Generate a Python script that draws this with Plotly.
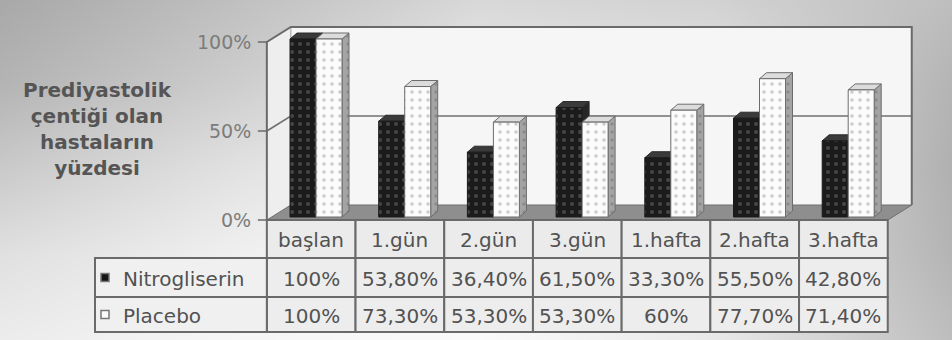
import plotly.graph_objects as go

# ---- data -------------------------------------------------------------
categories = ["başlan", "1.gün", "2.gün", "3.gün", "1.hafta", "2.hafta", "3.hafta"]
series_names = ["Nitrogliserin", "Placebo"]
nitro = [100, 53.8, 36.4, 61.5, 33.3, 55.5, 42.8]
placebo = [100, 73.3, 53.3, 53.3, 60, 77.7, 71.4]
y_ticks = [0, 50, 100]
y_title = "Prediyastolik<br>çentiği olan<br>hastaların<br>yüzdesi"

# ---- geometry ---------------------------------------------------------
W, H = 952, 340
PX_X0, PX_PER_CAT = 316.0, 88.7      # pixel x of category 0 / pixels per category
PX_Y0, PX_PER_PCT = 217.0, 1.78      # pixel y of 0% / pixels per percent
X_RANGE = [-PX_X0 / PX_PER_CAT, (W - PX_X0) / PX_PER_CAT]
Y_RANGE = [(PX_Y0 - H) / PX_PER_PCT, PX_Y0 / PX_PER_PCT]

DEPTH_DX = 24 / PX_PER_CAT           # shift of one full depth unit (x)
DEPTH_DY = 15 / PX_PER_PCT           # shift of one full depth unit (y)
FRONT, BACK = -0.2, 0.8              # depth of front edge and back wall
BAR_W = 26 / PX_PER_CAT
BAR_DX = 7 / PX_PER_CAT
BAR_DY = 6 / PX_PER_PCT
N = len(categories)
X_LO, X_HI = -0.5, N - 0.5

FONT = "DejaVu Sans"
TEXT = "#525252"
EDGE = "#6a6a6a"


def at_depth(x, v, d):
    return x + DEPTH_DX * d, v + DEPTH_DY * d


def px_x(x):
    return PX_X0 + PX_PER_CAT * x


def poly(points, fill, line_color=None, line_width=0, pattern=None):
    xs = [p[0] for p in points] + [points[0][0]]
    ys = [p[1] for p in points] + [points[0][1]]
    tr = go.Scatter(
        x=xs, y=ys, mode="lines", fill="toself", fillcolor=fill,
        line=dict(color=line_color or fill, width=line_width),
        hoverinfo="skip", showlegend=False,
    )
    if pattern:
        tr.update(fillpattern=pattern)
    return tr


def path(points, color, width):
    return go.Scatter(
        x=[p[0] for p in points], y=[p[1] for p in points], mode="lines",
        line=dict(color=color, width=width), hoverinfo="skip", showlegend=False,
    )


fig = go.Figure()

# ---- background gradient ----------------------------------------------
bg_px_x = [0, 240, 476, 714, 952]
bg_px_y = [0, 85, 170, 255, 340]
bg_gray = [
    [168, 192, 216, 210, 190],
    [180, 206, 234, 226, 180],
    [202, 226, 244, 234, 176],
    [224, 240, 248, 232, 180],
    [236, 246, 250, 232, 190],
]
fig.add_trace(go.Heatmap(
    x=[(p - PX_X0) / PX_PER_CAT for p in bg_px_x],
    y=[(PX_Y0 - p) / PX_PER_PCT for p in bg_px_y],
    z=bg_gray, zmin=0, zmax=255, zsmooth="best",
    colorscale=[[0, "rgb(0,0,0)"], [1, "rgb(255,255,255)"]],
    showscale=False, hoverinfo="skip",
))

# ---- walls and floor ---------------------------------------------------
fig.add_trace(poly([at_depth(X_LO, 0, BACK), at_depth(X_HI, 0, BACK),
                    at_depth(X_HI, 100, BACK), at_depth(X_LO, 100, BACK)], "#f6f6f6"))
fig.add_trace(poly([at_depth(X_LO, 0, FRONT), at_depth(X_LO, 0, BACK),
                    at_depth(X_LO, 100, BACK), at_depth(X_LO, 100, FRONT)], "#eeeeee"))
fig.add_trace(poly([at_depth(X_LO, 0, FRONT), at_depth(X_HI, 0, FRONT),
                    at_depth(X_HI, 0, BACK), at_depth(X_LO, 0, BACK)], "#8e8e8e", "#6e6e6e", 1))

# gridline at 50 % across the side and back wall
fig.add_trace(path([at_depth(X_LO, 50, FRONT), at_depth(X_LO, 50, BACK),
                    at_depth(X_HI, 50, BACK)], "#707070", 1.6))
fig.add_trace(path([at_depth(X_LO, 0, BACK), at_depth(X_LO, 100, BACK)], "#a0a0a0", 1))
# outer frame
fig.add_trace(path([at_depth(X_LO, 0, FRONT), at_depth(X_LO, 100, FRONT),
                    at_depth(X_LO, 100, BACK), at_depth(X_HI, 100, BACK),
                    at_depth(X_HI, 0, BACK)], EDGE, 2))
# tick marks on the value axis
for t in y_ticks:
    x0, v0 = at_depth(X_LO, t, FRONT)
    fig.add_trace(path([(x0 - 9 / PX_PER_CAT, v0), (x0, v0)], EDGE, 1.5))

# ---- 3D faces of the columns ------------------------------------------
dot_dark = dict(shape=".", fgcolor="#707070", bgcolor="#1b1b1b", size=8, solidity=0.2)
dot_light = dict(shape=".", fgcolor="#9a9a9a", bgcolor="#fbfbfb", size=8, solidity=0.14)
dot_side = dict(shape=".", fgcolor="#707070", bgcolor="#a4a4a4", size=8, solidity=0.14)

face_style = [
    # side fill, top fill, outline, side pattern
    ("#262626", "#3a3a3a", "#2a2a2a", None),
    ("#a4a4a4", "#dcdcdc", "#6c6c6c", dot_side),
]
offsets = [-BAR_W, 0.0]

for i in range(N):
    for s, vals in enumerate([nitro, placebo]):
        v = vals[i]
        xl = i + offsets[s]
        xr = xl + BAR_W
        side_fill, top_fill, outline, side_pat = face_style[s]
        fig.add_trace(poly([(xr, 0), (xr, v), (xr + BAR_DX, v + BAR_DY), (xr + BAR_DX, BAR_DY)],
                           side_fill, outline, 1, side_pat))
        fig.add_trace(poly([(xl, v), (xr, v), (xr + BAR_DX, v + BAR_DY), (xl + BAR_DX, v + BAR_DY)],
                           top_fill, outline, 1))

# ---- front faces (bars on an overlaid axis so they sit on top) ---------
for s, (vals, pat, line_c) in enumerate([(nitro, dot_dark, "#1a1a1a"),
                                         (placebo, dot_light, "#6c6c6c")]):
    fig.add_trace(go.Bar(
        x=list(range(N)), y=vals, width=BAR_W, offset=offsets[s],
        marker=dict(color=pat["bgcolor"], pattern=pat, line=dict(color=line_c, width=1)),
        name=series_names[s], showlegend=False, hoverinfo="skip",
        xaxis="x2", yaxis="y2",
    ))

# ---- axis labels -------------------------------------------------------
annotations = []
for t in y_ticks:
    x0, v0 = at_depth(X_LO, t, FRONT)
    annotations.append(dict(
        x=x0 - 14 / PX_PER_CAT, y=v0, xref="x", yref="y", text=f"{t}%",
        showarrow=False, xanchor="right", yanchor="middle",
        font=dict(family=FONT, size=19, color="#7c7c7c"),
    ))

annotations.append(dict(
    x=97 / W, y=1 - 129 / H, xref="paper", yref="paper", text=y_title,
    showarrow=False, xanchor="center", yanchor="middle", align="center",
    font=dict(family=FONT, size=20, color="#555555", weight="bold"),
))

# ---- data table under the chart ---------------------------------------
ROW_Y = [220, 258, 297, 332]          # pixel rows: header, series 1, series 2
LEG_LEFT = 95
shapes = []
col_px = [px_x(at_depth(i - 0.5, 0, FRONT)[0]) for i in range(N + 1)]


def fmt(v):
    if float(v).is_integer():
        return f"{int(v)}%"
    return f"{v:.2f}".replace(".", ",") + "%"


def cell(x0, x1, y0, y1, fill):
    shapes.append(dict(
        type="rect", xref="paper", yref="paper",
        x0=x0 / W, x1=x1 / W, y0=1 - y1 / H, y1=1 - y0 / H,
        fillcolor=fill, line=dict(color=EDGE, width=2), layer="above",
    ))


def cell_text(xc, yc, text, anchor="center"):
    annotations.append(dict(
        x=xc / W, y=1 - yc / H, xref="paper", yref="paper", text=text,
        showarrow=False, xanchor=anchor, yanchor="middle",
        font=dict(family=FONT, size=20, color=TEXT),
    ))


for i in range(N):
    x0, x1 = col_px[i], col_px[i + 1]
    xc = (x0 + x1) / 2
    cell(x0, x1, ROW_Y[0], ROW_Y[1], "#ebebeb")
    cell_text(xc, (ROW_Y[0] + ROW_Y[1]) / 2 + 1, categories[i])
    for r, vals in enumerate([nitro, placebo]):
        cell(x0, x1, ROW_Y[r + 1], ROW_Y[r + 2], "#ededed")
        cell_text(xc, (ROW_Y[r + 1] + ROW_Y[r + 2]) / 2 + 1, fmt(vals[i]))

swatch_fill = ["#151515", "#fbfbfb"]
for r in range(2):
    y0, y1 = ROW_Y[r + 1], ROW_Y[r + 2]
    cell(LEG_LEFT, col_px[0], y0, y1, "#f0f0f0")
    yc = (y0 + y1) / 2
    shapes.append(dict(
        type="rect", xref="paper", yref="paper",
        x0=101 / W, x1=109 / W, y0=1 - (yc + 4) / H, y1=1 - (yc - 4) / H,
        fillcolor=swatch_fill[r], line=dict(color="#777777", width=1.5), layer="above",
    ))
    cell_text(121, yc + 1, series_names[r], anchor="left")

fig.update_layout(
    width=W, height=H, margin=dict(l=0, r=0, t=0, b=0), autosize=False,
    paper_bgcolor="#d8d8d8", plot_bgcolor="rgba(0,0,0,0)",
    barmode="overlay", hovermode=False, showlegend=False,
    xaxis=dict(range=X_RANGE, visible=False, fixedrange=True, domain=[0, 1]),
    yaxis=dict(range=Y_RANGE, visible=False, fixedrange=True, domain=[0, 1]),
    xaxis2=dict(range=X_RANGE, visible=False, fixedrange=True, overlaying="x", anchor="y2"),
    yaxis2=dict(range=Y_RANGE, visible=False, fixedrange=True, overlaying="y", anchor="x2"),
    shapes=shapes, annotations=annotations,
)

fig.write_html("out.html", config=dict(displayModeBar=False, staticPlot=True))
